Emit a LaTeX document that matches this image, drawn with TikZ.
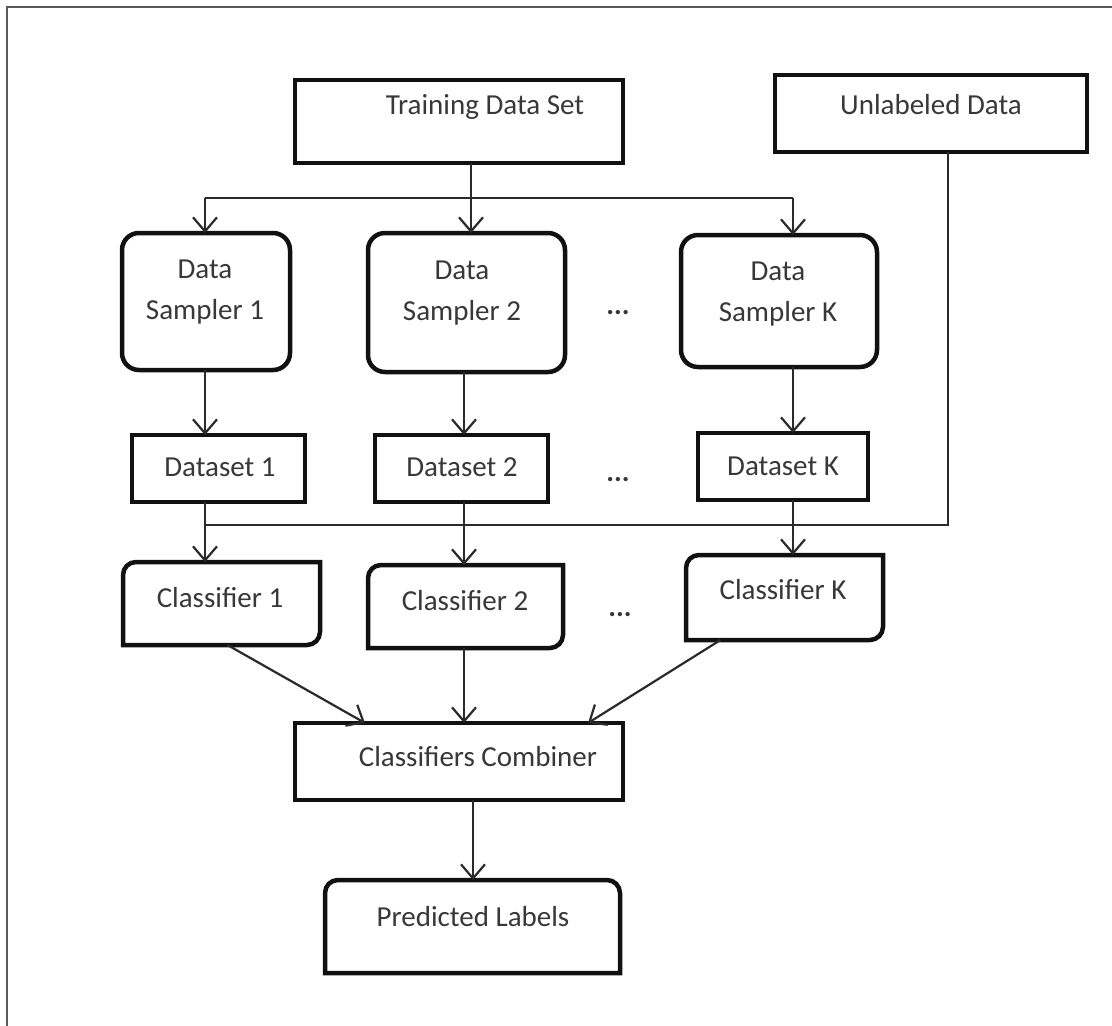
\documentclass[tikz,border=0pt]{standalone}
\usepackage{fontspec}
\setmainfont{Carlito}
\usetikzlibrary{arrows.meta}
\definecolor{ink}{HTML}{111111}
\definecolor{txtcol}{HTML}{383838}
\definecolor{wirecol}{HTML}{2A2A2A}
\definecolor{rimcol}{HTML}{5A5A5A}
\begin{document}
\begin{tikzpicture}[x=1pt,y=-1pt,
  plainbox/.style={draw=ink,line width=4.5pt,inner sep=0pt,outer sep=0pt},
  softbox/.style={plainbox,rounded corners=17pt},
  hollow/.style={draw=none,inner sep=0pt,outer sep=0pt},
  outline/.style={draw=ink,line width=4.5pt,line cap=rect,rounded corners=13pt},
  lbl/.style={text=txtcol,font=\fontsize{29}{41}\selectfont,inner sep=0pt,align=center},
  wire/.style={draw=wirecol,line width=2.2pt},
  arr/.style={wire,-{Straight Barb[length=14pt,width=24pt]}}]

\useasboundingbox (0,0) rectangle (1112,1026);
\fill[white] (0,0) rectangle (1112,1026);
% page frame (top and left rules)
\draw[rimcol,line width=2pt] (7,1026) -- (7,7) -- (1112,7);

% sources
\node[plainbox,minimum width=328pt,minimum height=83pt] (train) at (459,121.5) {};
\node[lbl] (train-t) at (485,107) {Training Data Set};
\node[plainbox,minimum width=312pt,minimum height=77pt] (unlab) at (931,113.5) {};
\node[lbl] (unlab-t) at (931,105) {Unlabeled Data};

% samplers
\node[softbox,minimum width=168pt,minimum height=137pt] (samp1) at (206,301.5) {};
\node[lbl] (samp1-t) at (205,292) {Data\\Sampler 1};
\node[softbox,minimum width=197pt,minimum height=139pt] (samp2) at (466.5,302.5) {};
\node[lbl] (samp2-t) at (462,293) {Data\\Sampler 2};
\node[softbox,minimum width=196pt,minimum height=132pt] (sampK) at (779,301) {};
\node[lbl] (sampK-t) at (778,294) {Data\\Sampler K};

% datasets
\node[plainbox,minimum width=173pt,minimum height=67pt] (ds1) at (218.5,468.5) {};
\node[lbl] (ds1-t) at (220,467) {Dataset 1};
\node[plainbox,minimum width=173pt,minimum height=67pt] (ds2) at (461.5,468.5) {};
\node[lbl] (ds2-t) at (462,467) {Dataset 2};
\node[plainbox,minimum width=170pt,minimum height=67pt] (dsK) at (783,466.5) {};
\node[lbl] (dsK-t) at (783,466) {Dataset K};

% classifiers (rounded top-left and bottom-right corners)
\node[hollow,minimum width=197pt,minimum height=83pt] (cl1) at (221.5,603.5) {};
\node[hollow,minimum width=195pt,minimum height=83pt] (cl2) at (465.5,606.5) {};
\node[hollow,minimum width=197pt,minimum height=85pt] (clK) at (784.5,597.5) {};
\foreach \c in {cl1,cl2,clK}{
  \draw[outline] (\c.south west) -- (\c.north west) -- (\c.north east)
                 (\c.north east) -- (\c.south east) -- (\c.south west);
}
\node[lbl] (cl1-t) at (220,598) {Classifier 1};
\node[lbl] (cl2-t) at (465,601) {Classifier 2};
\node[lbl] (clK-t) at (783,590) {Classifier K};

% ellipses between columns
\node[lbl,font=\bfseries\fontsize{29}{41}\selectfont] (dots1) at (618,313) {...};
\node[lbl,font=\bfseries\fontsize{29}{41}\selectfont] (dots2) at (618,480) {...};
\node[lbl,font=\bfseries\fontsize{29}{41}\selectfont] (dots3) at (620,615) {...};

% combiner and output
\node[plainbox,minimum width=328pt,minimum height=77pt] (comb) at (459,761.5) {};
\node[lbl] (comb-t) at (478,757) {Classifiers Combiner};
\node[hollow,minimum width=295pt,minimum height=93pt] (pred) at (472.5,926.5) {};
\draw[outline] (pred.south west) -- (pred.north west) -- (pred.north east) -- (pred.south east)
               (pred.south east) -- (pred.south west);
\node[lbl] (pred-t) at (473,917) {Predicted Labels};

% column guides for the connectors
\coordinate (c0) at (471,198);
\coordinate (c1) at (205,0);
\coordinate (c2) at (464,0);
\coordinate (cK) at (793,0);
\coordinate (bus) at (948,525);

% training data fan-out
\draw[wire] (c0 |- train.south) -- (c0);
\draw[wire] (c0 -| c1) -- (c0 -| cK);
\draw[arr] (c0 -| c1) -- (c1 |- samp1.north);
\draw[arr] (c0) -- (c0 |- samp2.north);
\draw[arr] (c0 -| cK) -- (cK |- sampK.north);

% samplers to datasets
\draw[arr] (c1 |- samp1.south) -- (c1 |- ds1.north);
\draw[arr] (c2 |- samp2.south) -- (c2 |- ds2.north);
\draw[arr] (cK |- sampK.south) -- (cK |- dsK.north);

% unlabeled data joins every classifier input
\draw[wire] (bus |- unlab.south) -- (bus) -- (bus -| c1);
\draw[arr] (c1 |- ds1.south) -- (c1 |- cl1.north);
\draw[arr] (c2 |- ds2.south) -- (c2 |- cl2.north);
\draw[arr] (cK |- dsK.south) -- (cK |- clK.north);

% classifiers to combiner
\draw[arr] ([xshift=6pt]cl1.south) -- ([xshift=-94pt]comb.north);
\draw[arr] (c2 |- cl2.south) -- (c2 |- comb.north);
\draw[arr] ([xshift=-64pt]clK.south) -- ([xshift=129pt]comb.north);

% combiner to output
\draw[arr] (comb.south -| pred-t) -- (pred-t |- pred.north);
\end{tikzpicture}
\end{document}
